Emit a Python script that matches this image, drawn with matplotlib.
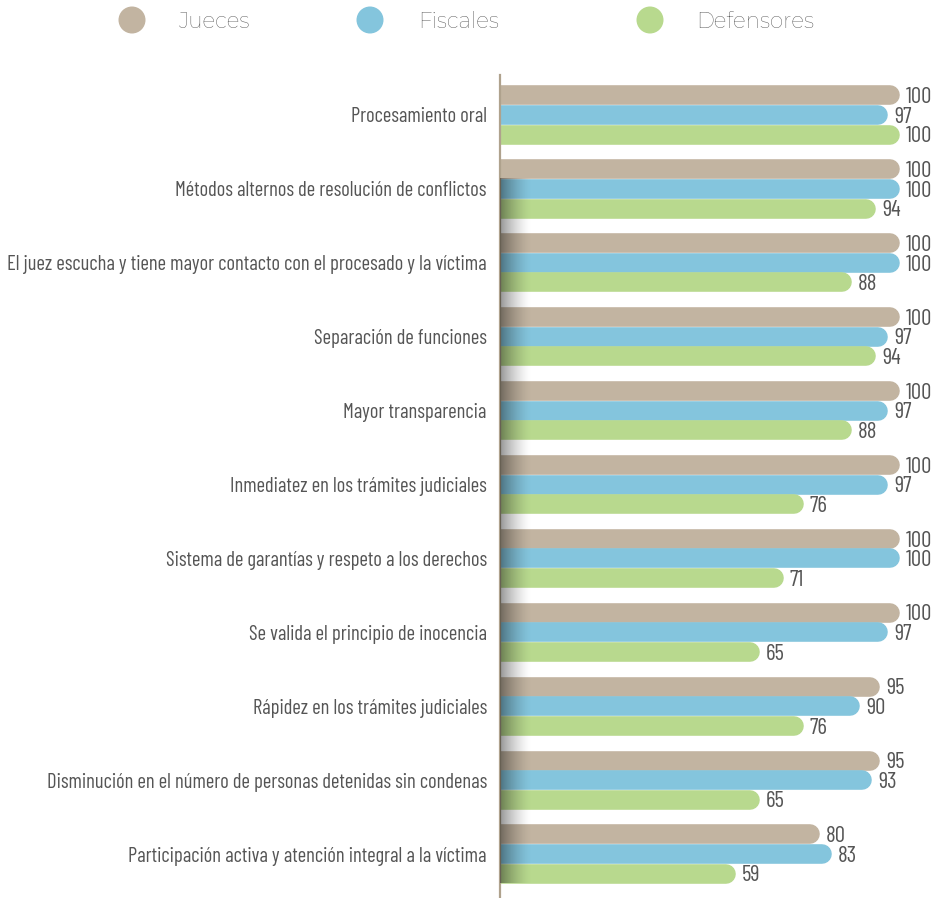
import matplotlib
matplotlib.use("Agg")
import matplotlib.pyplot as plt
import numpy as np
from matplotlib.patches import Circle

categories = [
    "Procesamiento oral",
    "Métodos alternos de resolución de conflictos",
    "El juez escucha y tiene mayor contacto con el procesado y la víctima",
    "Separación de funciones",
    "Mayor transparencia",
    "Inmediatez en los trámites judiciales",
    "Sistema de garantías y respeto a los derechos",
    "Se valida el principio de inocencia",
    "Rápidez en los trámites judiciales",
    "Disminución en el número de personas detenidas sin condenas",
    "Participación activa y atención integral a la víctima",
]
series_names = ["Jueces", "Fiscales", "Defensores"]
jueces = [100, 100, 100, 100, 100, 100, 100, 100, 95, 95, 80]
fiscales = [97, 100, 100, 97, 97, 97, 100, 97, 90, 93, 83]
defensores = [100, 94, 88, 94, 88, 76, 71, 65, 76, 65, 59]
series = [jueces, fiscales, defensores]
colors = ["#C2B4A1", "#84C5DD", "#B8D98E"]

COND = ["Barlow Condensed", "Roboto Condensed", "DejaVu Sans"]
LIGHT = ["Montserrat", "Lato", "DejaVu Sans"]

W, H = 940, 898
fig = plt.figure(figsize=(W / 100, H / 100), dpi=100)

ax_left, ax_top, ax_right, ax_bottom = 500, 75, 940, 898
ax = fig.add_axes([ax_left / W, 1 - ax_bottom / H, (ax_right - ax_left) / W, (ax_bottom - ax_top) / H])

group_px = 73.9
bar_px = 19.6
xmax = 110.0
px_per_unit = (ax_right - ax_left) / xmax
h = bar_px / group_px
top_units = (115 - ax_top) / group_px
ylim_bottom = (ax_bottom - 115) / group_px
ax.set_xlim(0, xmax)
ax.set_ylim(ylim_bottom, -top_units)

lw_pt = bar_px * 72 / 100
r_units = (bar_px / 2) / px_per_unit

n = len(categories)
ys = np.arange(n)
offsets = [-h, 0, h]
for s, (vals, col, off) in enumerate(zip(series, colors, offsets)):
    for i, v in enumerate(vals):
        y = i + off
        ax.plot([-10, v - r_units], [y, y], color=col, lw=lw_pt,
                solid_capstyle="round", zorder=2)
        ax.text(v + 1.5, y + 0.03, f"{v}", ha="left", va="center",
                fontsize=16.5, color="#555555", family=COND, zorder=5)

# shadow gradient near the axis
grad_w = 8.0
gx = np.linspace(0, 1, 200)
alpha = 0.42 * (1 - gx) ** 1.5
img = np.zeros((1, 200, 4))
img[0, :, 3] = alpha
y_start = 1 - h / 2
y_end = (n - 1) + h + h / 2
ax.imshow(img, extent=[0, grad_w, y_end, y_start], aspect="auto",
          interpolation="bilinear", zorder=3)
ax.set_xlim(0, xmax)
ax.set_ylim(ylim_bottom, -top_units)

ax.set_yticks(ys)
ax.set_yticklabels(categories, fontsize=14.8, color="#555555", family=COND)
ax.tick_params(axis="y", length=0, pad=9.5)
ax.set_xticks([])
for sp in ["top", "right", "bottom"]:
    ax.spines[sp].set_visible(False)
ax.spines["left"].set_color("#AFA28D")
ax.spines["left"].set_linewidth(1.6)
ax.set_facecolor("none")

# legend
leg_x = [132, 370, 650]
leg_tx = [179, 418, 696]
for name, col, cx, tx in zip(series_names, colors, leg_x, leg_tx):
    fig.patches.append(Circle((cx, H - 20), 13.5, transform=None,
                              facecolor=col, edgecolor="none"))
    fig.text(tx / W, 1 - 21 / H, name, ha="left", va="center", fontsize=15.5,
             color="#444444", family=LIGHT, fontweight="light")

fig.savefig("out.png", dpi=100)
